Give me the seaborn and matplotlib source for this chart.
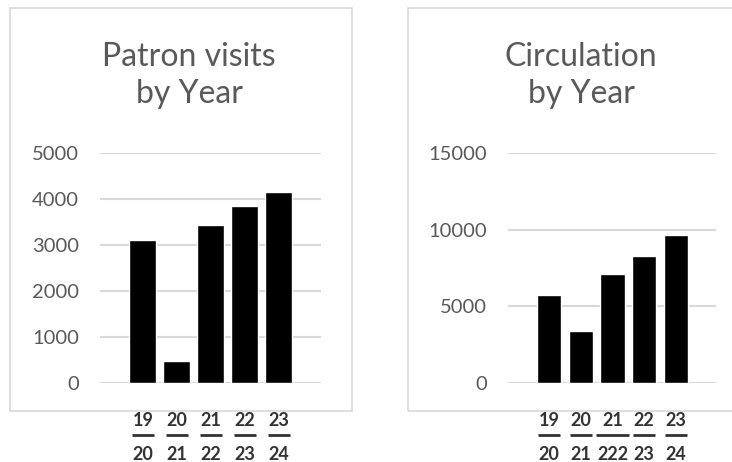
"""Patron visits and circulation by year - two Excel-style bar panels."""
import matplotlib
matplotlib.use("Agg")
import matplotlib.pyplot as plt
import matplotlib.transforms as mtransforms
from matplotlib.patches import Rectangle
import seaborn as sns

# -- Data ----------------------------------------------------------------------
VISIT_YEARS = ["19/20", "20/21", "21/22", "22/23", "23/24"]
VISITS = [3110, 475, 3430, 3850, 4150]
VISIT_TICKS = [0, 1000, 2000, 3000, 4000, 5000]

CIRC_YEARS = ["19/20", "20/21", "21/222", "22/23", "23/24"]
CIRCULATION = [5760, 3410, 7110, 8280, 9630]
CIRC_TICKS = [0, 5000, 10000, 15000]

TITLES = ["Patron visits\nby Year", "Circulation\nby Year"]

# -- Style ---------------------------------------------------------------------
W, H, DPI = 732, 462, 100
TEXT_GREY = "#595959"
GRID_GREY = "#d9d9d9"
FRAC_COLOR = "#333333"

sns.set_theme(style="white")
plt.rcParams["font.family"] = ["Lato", "DejaVu Sans"]


def px(x0, y0, x1, y1):
    # pixel box (top-left origin) -> figure fraction [left, bottom, width, height]
    return [x0 / W, (H - y1) / H, (x1 - x0) / W, (y1 - y0) / H]


def draw_panel(fig, box, years, values, yticks, title, title_x, bar_w, xlim):
    ax = fig.add_axes(px(*box))
    sns.barplot(x=years, y=values, color="black", saturation=1, width=bar_w, ax=ax)
    ax.set_xlim(*xlim)
    ax.set_ylim(0, yticks[-1])
    ax.set_yticks(yticks)
    ax.yaxis.grid(True, color=GRID_GREY, linewidth=1.5)
    ax.set_axisbelow(True)
    sns.despine(ax=ax, left=True, bottom=True)
    ax.tick_params(axis="y", length=0, pad=15, labelsize=14.5, labelcolor=TEXT_GREY)
    ax.tick_params(axis="x", length=0, pad=21, labelsize=13, labelcolor=FRAC_COLOR)
    ax.set_xticks(range(len(years)))
    ax.set_xticklabels([y.replace("/", "\n") for y in years],
                       fontweight="bold", linespacing=2.2)
    ax.set_xlabel("")
    ax.set_ylabel("")

    # fraction bars between numerator and denominator
    px_per_unit = (box[2] - box[0]) / (xlim[1] - xlim[0])
    trans = mtransforms.blended_transform_factory(ax.transData, ax.transAxes)
    bar_y = -52 / (box[3] - box[1])
    for i, label in enumerate(years):
        digits = max(len(p) for p in label.split("/"))
        half = (5.6 * digits) / px_per_unit
        ax.plot([i - half, i + half], [bar_y, bar_y], color=FRAC_COLOR,
                linewidth=2, solid_capstyle="butt", transform=trans, clip_on=False)

    fig.text(title_x / W, 1 - 42 / H, title, ha="center", va="top",
             multialignment="center", fontsize=23, color=TEXT_GREY, linespacing=1.3)
    return ax


fig = plt.figure(figsize=(W / DPI, H / DPI), dpi=DPI)

# chart frames
for x0, x1 in [(10, 352), (408, 745)]:
    fig.patches.append(Rectangle((x0 / W, (H - 411) / H), (x1 - x0) / W, 403 / H,
                                 transform=fig.transFigure, fill=False,
                                 edgecolor=GRID_GREY, linewidth=1.2))

draw_panel(fig, (100, 153, 321, 383), VISIT_YEARS, VISITS, VISIT_TICKS,
           TITLES[0], 189, 0.79, (-1.26, 5.24))
draw_panel(fig, (508, 153, 716, 383), CIRC_YEARS, CIRCULATION, CIRC_TICKS,
           TITLES[1], 581, 0.76, (-1.29, 5.26))

fig.savefig("out.png", dpi=DPI)
